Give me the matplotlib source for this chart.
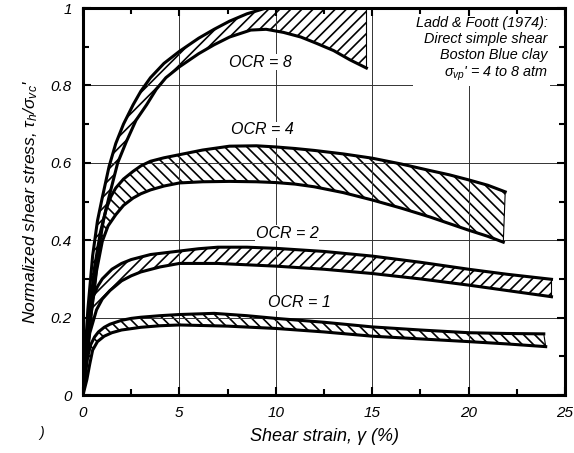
import numpy as np
import matplotlib
matplotlib.use("Agg")
import matplotlib.pyplot as plt
from matplotlib.ticker import MultipleLocator

plt.rcParams['font.family'] = ['Liberation Sans', 'DejaVu Sans']
plt.rcParams['font.style'] = 'italic'
plt.rcParams['mathtext.fontset'] = 'custom'
plt.rcParams['mathtext.rm'] = 'Liberation Sans:italic'
plt.rcParams['mathtext.it'] = 'Liberation Sans:italic'
plt.rcParams['hatch.linewidth'] = 1.2

## band edges for each OCR (strain in %, normalized stress)
ocr8_up_x = [0, 0.1, 0.25, 0.5, 0.75, 1.0, 1.35, 1.7, 2.1, 2.6, 3.0, 3.5, 4.2, 5, 6, 6.8, 7.6, 8.5, 9.5, 11, 12.5, 14.7]
ocr8_up_y = [0, 0.1, 0.22, 0.36, 0.45, 0.51, 0.59, 0.65, 0.70, 0.75, 0.785, 0.82, 0.857, 0.888, 0.922, 0.945, 0.966, 0.985, 1.0, 1.01, 1.015, 1.02]
ocr8_lo_x = [0, 0.15, 0.4, 0.78, 1.05, 1.38, 1.8, 2.25, 2.75, 3.3, 3.8, 4.3, 5, 6, 6.8, 7.6, 8.7, 9.5, 10.4, 11.3, 12.1, 13, 13.85, 14.7]
ocr8_lo_y = [0, 0.07, 0.2, 0.363, 0.45, 0.518, 0.6, 0.655, 0.71, 0.75, 0.79, 0.82, 0.848, 0.882, 0.905, 0.925, 0.943, 0.945, 0.937, 0.925, 0.909, 0.89, 0.866, 0.845]

ocr4_up_x = [0, 0.15, 0.35, 0.6, 0.9, 1.2, 1.45, 1.7, 2.1, 2.6, 3, 3.5, 4.2, 5, 6.2, 7.6, 9, 10, 11, 12, 13.5, 15, 16.5, 18, 19, 20, 21, 21.9]
ocr4_up_y = [0, 0.1, 0.22, 0.33, 0.42, 0.48, 0.513, 0.535, 0.558, 0.578, 0.592, 0.604, 0.613, 0.621, 0.633, 0.643, 0.644, 0.641, 0.637, 0.632, 0.623, 0.612, 0.597, 0.58, 0.569, 0.556, 0.542, 0.525]
ocr4_lo_x = [0, 0.15, 0.4, 0.7, 1.0, 1.3, 1.7, 2.1, 2.6, 3, 3.5, 4.2, 5, 6.2, 7.6, 9, 10, 11, 12, 13.5, 15, 16.5, 18, 19, 20, 21, 21.8]
ocr4_lo_y = [0, 0.08, 0.2, 0.32, 0.397, 0.437, 0.466, 0.49, 0.509, 0.52, 0.53, 0.54, 0.548, 0.551, 0.552, 0.551, 0.549, 0.545, 0.538, 0.523, 0.504, 0.483, 0.46, 0.443, 0.426, 0.41, 0.395]

ocr2_up_x = [0, 0.1, 0.25, 0.5, 0.75, 1.0, 1.5, 2, 2.5, 3.5, 5, 6, 7, 8.5, 10, 12.5, 15, 17.5, 20, 22, 24.3]
ocr2_up_y = [0, 0.1, 0.18, 0.25, 0.28, 0.3, 0.325, 0.34, 0.35, 0.363, 0.372, 0.378, 0.382, 0.382, 0.379, 0.371, 0.359, 0.343, 0.325, 0.312, 0.299]
ocr2_lo_x = [0, 0.15, 0.35, 0.7, 1.0, 1.4, 2, 2.5, 3, 4, 5, 7, 10, 12.5, 15, 17.5, 20, 22, 24.3]
ocr2_lo_y = [0, 0.08, 0.16, 0.22, 0.248, 0.27, 0.295, 0.308, 0.318, 0.331, 0.34, 0.34, 0.333, 0.325, 0.314, 0.3, 0.284, 0.27, 0.254]

ocr1_up_x = [0, 0.1, 0.25, 0.4, 0.6, 0.8, 1.1, 1.4, 2, 2.5, 3, 4, 5, 6.8, 8.5, 10, 12.5, 15, 17.5, 20, 22, 23.9]
ocr1_up_y = [0, 0.05, 0.1, 0.13, 0.15, 0.163, 0.175, 0.183, 0.193, 0.198, 0.201, 0.205, 0.208, 0.211, 0.205, 0.198, 0.188, 0.176, 0.168, 0.161, 0.159, 0.158]
ocr1_lo_x = [0, 0.1, 0.2, 0.35, 0.5, 0.75, 1.1, 1.5, 2, 3, 4, 5, 7.5, 10, 12.5, 15, 17.5, 20, 22, 24]
ocr1_lo_y = [0, 0.02, 0.04, 0.08, 0.116, 0.138, 0.152, 0.161, 0.168, 0.175, 0.179, 0.181, 0.178, 0.172, 0.163, 0.152, 0.145, 0.138, 0.132, 0.125]

bands = [
    ("OCR = 8", ocr8_up_x, ocr8_up_y, ocr8_lo_x, ocr8_lo_y, "///", (9.2, 0.86)),
    ("OCR = 4", ocr4_up_x, ocr4_up_y, ocr4_lo_x, ocr4_lo_y, "\\\\\\", (9.3, 0.685)),
    ("OCR = 2", ocr2_up_x, ocr2_up_y, ocr2_lo_x, ocr2_lo_y, "///", (10.6, 0.418)),
    ("OCR = 1", ocr1_up_x, ocr1_up_y, ocr1_lo_x, ocr1_lo_y, "\\\\\\", (11.2, 0.238)),
]

fig = plt.figure(figsize=(5.74, 4.53), dpi=100)
ax = fig.add_axes([0.1446, 0.128, 0.8397, 0.8543])

for name, ux, uy, lx, ly, hatch, (tx, ty) in bands:
    # hatched area between the two edges
    px = np.r_[ux, lx[::-1]]
    py = np.r_[uy, ly[::-1]]
    ax.fill(px, py, facecolor="none", edgecolor="black", hatch=hatch, linewidth=0)
    ax.plot(ux, uy, color="black", lw=2.2, solid_joinstyle="round")
    ax.plot(lx, ly, color="black", lw=2.2, solid_joinstyle="round")
    ax.plot([ux[-1], lx[-1]], [uy[-1], ly[-1]], color="black", lw=0.8)
    ax.text(tx, ty, name, ha="center", va="center", fontsize=11.5,
            bbox=dict(facecolor="white", edgecolor="none", pad=0.5))

ax.set_xlim(0, 25)
ax.set_ylim(0, 1)
ax.xaxis.set_minor_locator(MultipleLocator(2.5))
ax.yaxis.set_minor_locator(MultipleLocator(0.1))
ax.set_xticks([0, 5, 10, 15, 20, 25])
ax.set_xticklabels(["0", "5", "10", "15", "20", "25"])
ax.set_yticks([0, 0.2, 0.4, 0.6, 0.8, 1])
ax.set_yticklabels(["0", "0.2", "0.4", "0.6", "0.8", "1"])
ax.tick_params(which="both", direction="in", top=True, right=True, labelsize=11, width=1.5, pad=8)
ax.tick_params(which="major", length=6)
ax.tick_params(which="minor", length=4)
ax.grid(True, which="major", color="0.2", lw=0.7)
for s in ax.spines.values():
    s.set_linewidth(2.2)

ax.set_xlabel("Shear strain, $\\gamma$ (%)", fontsize=13, labelpad=4)
ax.set_ylabel("Normalized shear stress, $\\tau_h/\\sigma_{vc}$'", fontsize=12.5, labelpad=8)

ax.text(24.1, 0.98,
        "Ladd & Foott (1974):\nDirect simple shear\nBoston Blue clay\n$\\sigma_{vp}$' = 4 to 8 atm",
        ha="right", va="top", fontsize=10.4, linespacing=1.2, zorder=5,
        bbox=dict(facecolor="white", edgecolor="none", pad=2))

fig.text(0.068, 0.035, ")", fontsize=10)

fig.savefig("out.png", dpi=100)
